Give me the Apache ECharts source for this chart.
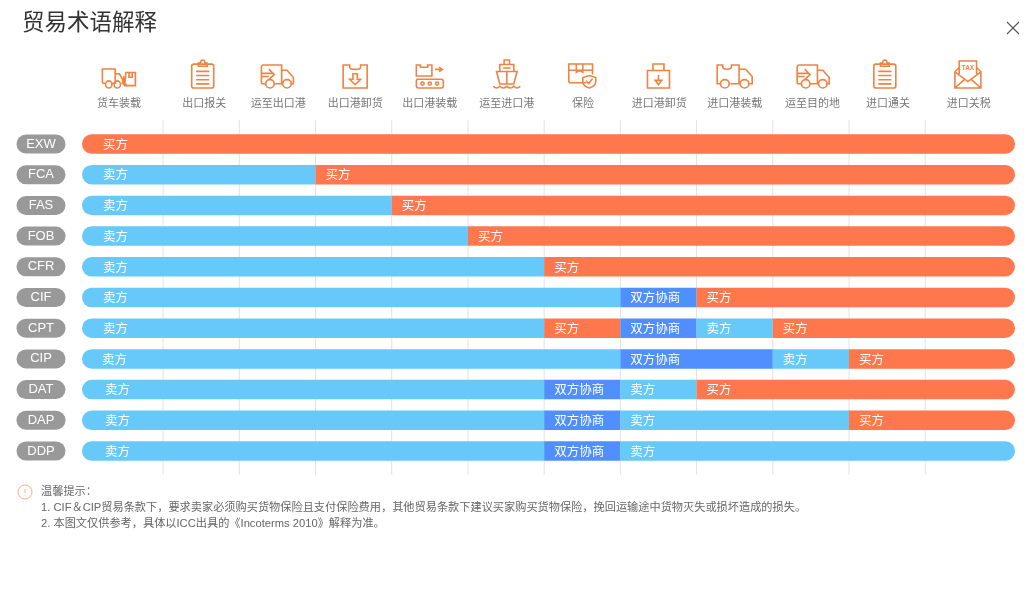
<!DOCTYPE html>
<html><head><meta charset="utf-8">
<style>html,body{margin:0;padding:0;background:#fff}#c{width:1024px;height:596px}</style>
<script src="https://cdn.jsdelivr.net/npm/echarts@6/dist/echarts.min.js"></script>
</head><body><div id="c"></div>
<script>
const START = -0.064, END = 12.178;
const terms = ['EXW','FCA','FAS','FOB','CFR','CIF','CPT','CIP','DAT','DAP','DDP'];
const steps = ['货车装载','出口报关','运至出口港','出口港卸货','出口港装载','运至进口港','保险','进口港卸货','进口港装载','运至目的地','进口通关','进口关税'];
const stepLabelPos = [0.42,1.54,2.51,3.52,4.50,5.51,6.51,7.51,8.50,9.52,10.51,11.57];
const stepIconPos = [0.42,1.52,2.50,3.52,4.50,5.51,6.50,7.50,8.50,9.53,10.47,11.56];
const boundaries = [1,2,3,4,5,6,7,8,9,10,11];
const rowEdges = [
 [START,END],
 [START,3,END],
 [START,4,END],
 [START,5,END],
 [START,6,END],
 [START,7,8,END],
 [START,6,7,8,9,END],
 [START,7,9,10,END],
 [START,6,7,8,END],
 [START,6,7,10,END],
 [START,6,7,END]
];
const rowRoles = [
 ['买方'],
 ['卖方','买方'],
 ['卖方','买方'],
 ['卖方','买方'],
 ['卖方','买方'],
 ['卖方','双方协商','买方'],
 ['卖方','买方','双方协商','卖方','买方'],
 ['卖方','双方协商','卖方','买方'],
 ['卖方','双方协商','卖方','买方'],
 ['卖方','双方协商','卖方','买方'],
 ['卖方','双方协商','卖方']
];
const noteLines = [
 '温馨提示：',
 '1. CIF＆CIP贸易条款下，要求卖家必须购买货物保险且支付保险费用，其他贸易条款下建议买家购买货物保险，挽回运输途中货物灭失或损坏造成的损失。',
 '2. 本图文仅供参考，具体以ICC出具的《Incoterms 2010》解释为准。'
];

const circle = (x,y,r)=>`M${x-r} ${y}a${r} ${r} 0 1 0 ${2*r} 0a${r} ${r} 0 1 0 ${-2*r} 0Z`;
const clipboard = `M3 5H7M15 5H19Q21 5 21 7V26Q21 28 19 28H3Q1 28 1 26V7Q1 5 3 5ZM7 7V4H9Q9 1 11 1Q13 1 13 4H15V7ZM5 12H17M5 16H17M5 20H17M5 24H17`;
const arrowTruck = `M5 19H2Q1 19 1 18V3Q1 1 3 1H20V19H13M1 9H11M8 5L13 10L8 15M1 12H8M20 6H25L31 13V19H28M20 19H21`+circle(9,19,4)+circle(25,19,4);
const iconShapes = [
 {w:33,h:19,d:`M5 14H2Q1 14 1 13V2H13V14H10M13 6H17L20 11V14H19M10 14H14`+circle(7,15,3)+circle(15,15,3)+`M21 8V15H24M23 5H32V16H22ZM26 5V9H29V5`},
 {w:22,h:28,d:clipboard},
 {w:32,h:23,d:arrowTruck},
 {w:24,h:23,d:`M1 1H7V3Q7 5 12 5Q17 5 17 3V1H23V22H1ZM10 9V14H7L12 19L17 14H14V9Z`},
 {w:27,h:23,d:`M1 1H5V3H12V1H16V11H1ZM1 14H25Q27 14 27 16V20Q27 22 25 22H3Q1 22 1 20V16Q1 14 3 14Z`+circle(7,18,1.5)+circle(14,18,1.5)+circle(21,18,1.5)+`M19 5H25M23 3L26 5L23 7`},
 {w:27,h:28,d:`M11 1H16V5H11ZM7 5H20V11H7ZM10 8H17M4 11H23L20 22H7ZM13.5 11V22M1 24Q4 27 7 24Q10 27 13.5 24Q17 27 20 24Q23 27 26 24`},
 {w:27,h:24,d:`M17 19H3Q1 19 1 17V1H23V11M1 7H23M8 1V9L11 7L14 9V1M20 12L26 14V18Q26 22 20 24Q14 22 14 18V14ZM17 17L19.5 20L23 15`},
 {w:22,h:24,d:`M6 1H16V7H21V23H1V7H6ZM6 7H16M11 11V16H8L11 20L14 16H11`},
 {w:35,h:23,d:`M5 19H2V1H7V3Q7 5 11 5Q15 5 15 3V1H22V19H14M22 5H28L34 12V19H31M22 19H22`+circle(9,19,4)+circle(27,19,4)},
 {w:32,h:23,d:arrowTruck},
 {w:22,h:28,d:clipboard},
 {w:26,h:27,d:`M5 13V1H21V13M5 7L1 11V26H25V11L21 7M1 11L13 20L25 11M1 26L10 18M25 26L16 18`,tag:'TAX'}
];

const colors = {'卖方':'#66c9f9','买方':'#ff774d','双方协商':'#4f8fff'};
const segments = [];
rowRoles.forEach((roles,r)=>roles.forEach((role,i)=>{
  segments.push([r,rowEdges[r][i],rowEdges[r][i+1],role]);
}));
const FONT = '"Noto Sans CJK SC","Liberation Sans",sans-serif';
const NOTEFONT = '11.2px "Liberation Sans","Noto Sans CJK SC",sans-serif';

const chart = echarts.init(document.getElementById('c'),null,{renderer:'canvas'});
chart.setOption({
  animation:false,
  backgroundColor:'#fff',
  title:{text:'贸易术语解释',left:17,top:5,textStyle:{fontSize:22.5,fontWeight:'normal',color:'#333',fontFamily:FONT}},
  grid:{left:82,width:933,top:128.65,height:337.7},
  xAxis:{type:'value',min:START,max:END,show:false,splitLine:{show:false}},
  yAxis:{type:'category',inverse:true,data:terms,
    axisLine:{show:false},axisTick:{show:false},splitLine:{show:false},
    axisLabel:{margin:41,color:'#fff',fontSize:13,fontFamily:'"Liberation Sans",sans-serif',
      backgroundColor:'#999',width:49,height:18,lineHeight:18,padding:[1,0,0,0],align:'center',borderRadius:10}},
  graphic:[
    {type:'line',shape:{x1:1007,y1:22,x2:1019,y2:34},style:{stroke:'#555',lineWidth:1.1}},
    {type:'line',shape:{x1:1019,y1:22,x2:1007,y2:34},style:{stroke:'#555',lineWidth:1.1}},
    {type:'circle',shape:{cx:25,cy:492,r:7},style:{fill:'none',stroke:'#f5b08a',lineWidth:1}},
    {type:'line',shape:{x1:25,y1:489,x2:25,y2:493},style:{stroke:'#f5b08a',lineWidth:1}},
    {type:'line',shape:{x1:25,y1:494.5,x2:25,y2:495.5},style:{stroke:'#f5b08a',lineWidth:1}},
    ...noteLines.map((t,i)=>({type:'text',x:41,y:491.5+i*16,style:{text:t,fill:'#666',font:NOTEFONT,verticalAlign:'middle',align:'left'}}))
  ],
  series:[
    {type:'custom',name:'分界线',z:1,silent:true,clip:false,
      data:boundaries.map(v=>[v]),
      renderItem(p,api){
        const band=api.size([0,1])[1], x=api.coord([api.value(0),0])[0];
        const y0=api.coord([0,0])[1]-band*0.78, y1=api.coord([0,10])[1]+band*0.78;
        return {type:'line',shape:{x1:x,y1:y0,x2:x,y2:y1},style:{stroke:'#e2e2e2',lineWidth:1}};
      }},
    {type:'custom',name:'责任划分',z:2,silent:true,clip:false,
      data:segments,
      renderItem(p,api){
        const r=api.value(0), s=api.value(1), e=api.value(2), role=segments[p.dataIndex][3];
        const a=api.coord([s,r]), b=api.coord([e,r]), h=19.5;
        const rl=s===START?h/2:0, rr=e===END?h/2:0;
        let off=s===START?21:10;
        if(s===START&&r>=8) off=23;
        if(s===START&&r===7) off=20;
        return {type:'group',children:[
          {type:'rect',shape:{x:a[0],y:a[1]-h/2,width:b[0]-a[0],height:h,r:[rl,rr,rr,rl]},style:{fill:colors[role]}},
          {type:'text',x:a[0]+off,y:a[1],style:{text:role,fill:'#fff',font:'12.5px '+FONT,verticalAlign:'middle',align:'left'}}
        ]};
      }},
    {type:'custom',name:'环节',z:3,silent:true,clip:false,
      data:steps.map((s,i)=>[stepLabelPos[i],stepIconPos[i]]),
      renderItem(p,api){
        const i=p.dataIndex, top=api.coord([0,0])[1]-144;
        const lx=api.coord([api.value(0),0])[0], ix=api.coord([api.value(1),0])[0];
        const ic=iconShapes[i], bottom=88+top;
        const kids=[
          {type:'path',shape:{pathData:ic.d,layout:'cover',x:ix-ic.w/2,y:bottom-ic.h,width:ic.w,height:ic.h},
            style:{fill:'none',stroke:'#ee8344',lineWidth:1.6}},
          {type:'text',x:lx,y:103+top,style:{text:steps[i],fill:'#777',font:'11px '+FONT,align:'center',verticalAlign:'middle'}}
        ];
        if(ic.tag) kids.push({type:'text',x:ix,y:bottom-ic.h+7,style:{text:ic.tag,fill:'#ee8344',font:'bold 6.5px "Liberation Sans",sans-serif',align:'center',verticalAlign:'middle'}});
        return {type:'group',children:kids};
      }}
  ]
});
</script></body></html>
